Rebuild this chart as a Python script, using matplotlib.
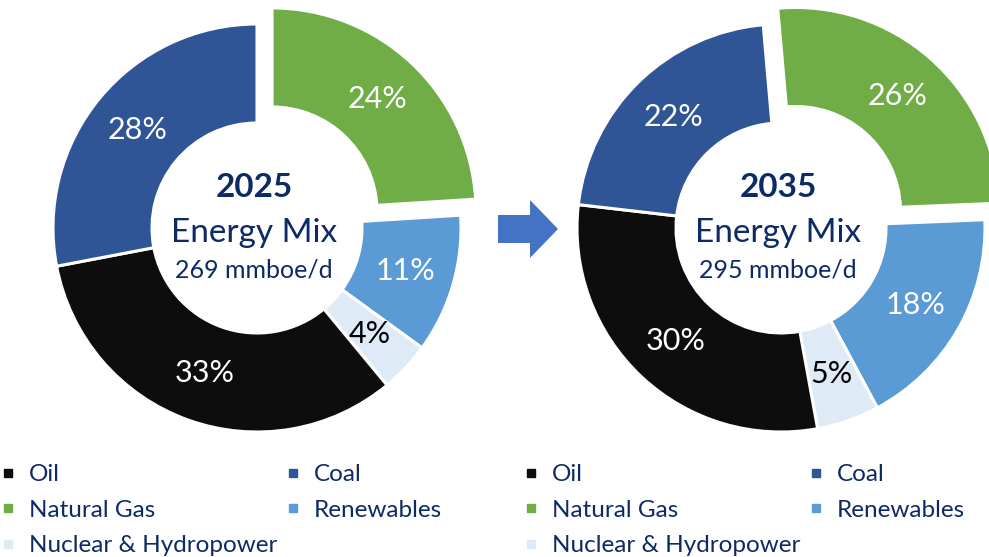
import matplotlib
matplotlib.use("Agg")
import matplotlib.pyplot as plt
from matplotlib.lines import Line2D
from matplotlib.patches import FancyArrow

plt.rcParams['font.family'] = ['Lato', 'DejaVu Sans']

# data
categories = ["Oil", "Coal", "Natural Gas", "Renewables", "Nuclear & Hydropower"]
share_2025 = [33, 28, 24, 11, 4]
share_2035 = [30, 22, 26, 18, 5]
colors = {"Oil": "#0d0d0d", "Coal": "#2f5597", "Natural Gas": "#70ad47",
          "Renewables": "#5b9bd5", "Nuclear & Hydropower": "#deebf7"}
years = ["2025", "2035"]
totals = ["269 mmboe/d", "295 mmboe/d"]

# clockwise from the top
pie_order = ["Natural Gas", "Renewables", "Nuclear & Hydropower", "Oil", "Coal"]
navy = "#0e2a66"
H = 557

fig = plt.figure(figsize=(9.89, 5.57), dpi=100)
ax = fig.add_axes([0, 0, 1, 1])

def draw_donut(shares, cx, start, year, total):
    vals = [shares[categories.index(c)] for c in pie_order]
    # explode offset is in data units here (pixels)
    expl = [22 if c == "Natural Gas" else 0 for c in pie_order]
    wedges, texts = ax.pie(vals, labels=[f"{v}%" for v in vals],
                           colors=[colors[c] for c in pie_order],
                           explode=expl, startangle=start, counterclock=False,
                           center=(cx, H - 228), radius=204, frame=True,
                           labeldistance=0.757,
                           wedgeprops=dict(width=99, edgecolor="white", linewidth=2.2),
                           textprops=dict(fontsize=22, color="white"))
    for t, c in zip(texts, pie_order):
        t.set_ha("center")
        t.set_va("center")
        if c == "Nuclear & Hydropower":
            t.set_color("black")
    ax.text(cx - 3, H - 197, year, ha="center", va="baseline", fontsize=24,
            fontweight="bold", color=navy)
    ax.text(cx - 3, H - 242, "Energy Mix", ha="center", va="baseline",
            fontsize=24, color=navy)
    ax.text(cx - 3, H - 278, total, ha="center", va="baseline",
            fontsize=18, color=navy)

draw_donut(share_2025, 257, 90, years[0], totals[0])
draw_donut(share_2035, 781, 95, years[1], totals[1])

# arrow between the charts
ax.add_patch(FancyArrow(498, H - 229, 60, 0, width=28, head_width=58,
                        head_length=28, length_includes_head=True,
                        color="#4472c4", lw=0))

# legends (row-wise: Oil, Coal / Natural Gas, Renewables / Nuclear)
leg_order = ["Oil", "Natural Gas", "Nuclear & Hydropower", "Coal", "Renewables"]
handles = [Line2D([], [], ls="", marker="s", markersize=6,
                  markerfacecolor=colors[c], markeredgecolor=colors[c])
           for c in leg_order]
for x0 in [2, 525]:
    fig.legend(handles, leg_order, ncol=2, loc="upper left",
               bbox_to_anchor=(x0, H - 464), bbox_transform=ax.transData,
               frameon=False, fontsize=17.5, handlelength=0.5,
               handletextpad=0.6, columnspacing=0.4, labelspacing=0.6,
               borderpad=0, borderaxespad=0, labelcolor=navy)

ax.set_xlim(0, 989)
ax.set_ylim(0, H)
ax.set_aspect("equal")
ax.axis("off")

fig.savefig("out.png", dpi=100)
